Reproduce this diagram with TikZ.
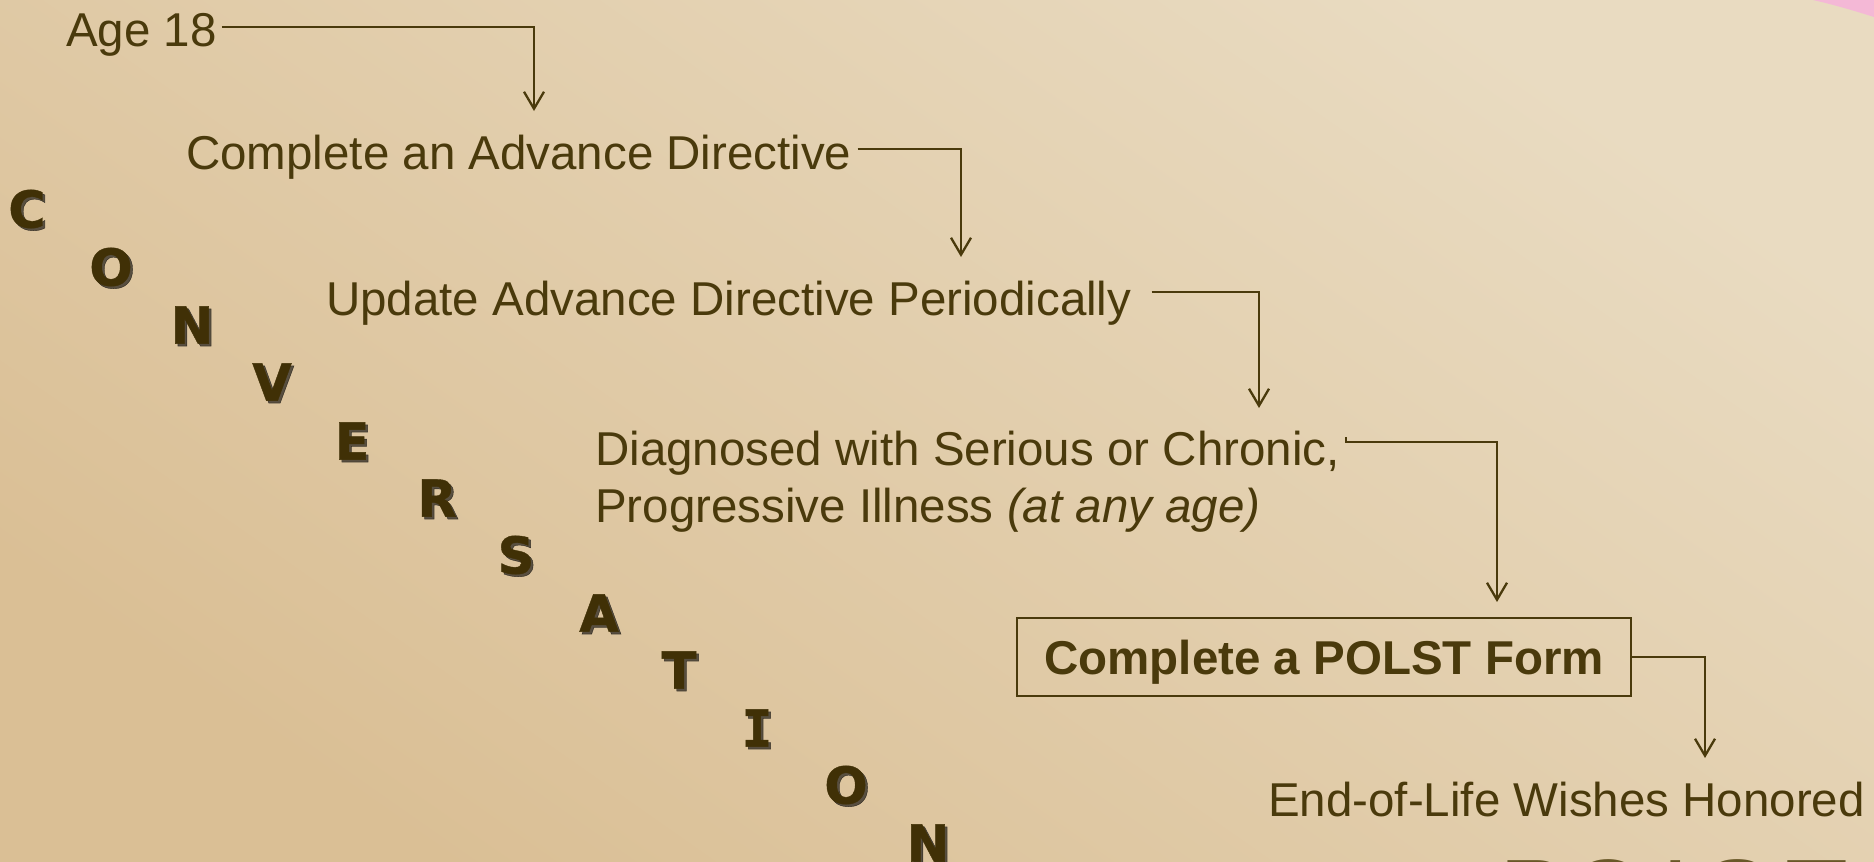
\documentclass[tikz,border=0pt]{standalone}
\usepackage{fontspec}
\setmainfont{Liberation Sans}
\newfontfamily\convfont{DejaVu Sans}[BoldFeatures={FakeBold=0.8}]
\newfontfamily\convmono{DejaVu Sans Mono}[BoldFeatures={FakeBold=0.8}]
\usetikzlibrary{arrows.meta}
\definecolor{bgdark}{RGB}{218,191,149}
\definecolor{bglight}{RGB}{233,219,193}
\definecolor{txt}{RGB}{74,58,12}
\definecolor{conv}{RGB}{64,48,6}
\definecolor{pinkc}{RGB}{244,184,214}
\definecolor{polstc}{RGB}{105,88,40}
\begin{document}
\begin{tikzpicture}[x=1pt,y=-1pt,
  lbl/.style={anchor=base west, inner sep=0pt, text=txt, font=\fontsize{47.5}{57}\selectfont},
  conn/.style={draw=txt, line width=2.3pt, -{Straight Barb[length=17pt,width=20pt,line width=2.3pt]}},
  letter/.style={anchor=center, inner sep=0pt, text=conv, font=\convfont\bfseries\fontsize{51}{51}\selectfont},
  shadowl/.style={letter, text=black, opacity=0.6},
  bigl/.style={anchor=base, inner sep=0pt, text=polstc, font=\fontsize{103}{103}\selectfont},
]
\useasboundingbox (0,0) rectangle (1874,862);
\clip (0,0) rectangle (1874,862);
\shade[top color=bglight, bottom color=bgdark, shading angle=-35] (0,0) rectangle (1874,862);
\fill[pinkc] (1813,0) .. controls (1835,5) and (1855,11) .. (1874,17) -- (1874,0) -- cycle;

% CONVERSATION
\foreach \l/\x/\y in {C/27/209, O/111/267, N/192/325, V/272/382, E/352/441, R/437/498, S/516/555, A/599/613, T/679/670, O/846/785, N/928/843} {
  \node[shadowl] (s\x) at (\x+2.5,\y+2.5) {\l};
  \node[letter] (c\x) at (\x,\y) {\l};
}
\node[shadowl, font=\convmono\bfseries\fontsize{51}{51}\selectfont] (s757) at (759.5,730.5) {I};
\node[letter, font=\convmono\bfseries\fontsize{51}{51}\selectfont] (c757) at (757,728) {I};

% steps
\node[lbl] (age) at (66,46) {Age 18};
\node[lbl] (cad) at (186,169) {Complete an Advance Directive};
\node[lbl] (upd) at (326,315) {Update Advance Directive Periodically};
\node[lbl] (dg1) at (595,465) {Diagnosed with Serious or Chronic,};
\node[lbl] (dg2) at (595,522) {Progressive Illness \textit{(at any age)}};
\node[draw=txt, line width=2.3pt, minimum width=614pt, minimum height=78pt, inner sep=0pt,
      text height=34pt, text depth=0pt, text=txt, font=\bfseries\fontsize{47.5}{57}\selectfont]
      (polst) at (1324,657) {Complete a POLST Form\hspace{12pt}};
\node[lbl] (end) at (1268,816) {End-of-Life Wishes Honored};

% connector tips
\coordinate (t1) at (534,111);
\coordinate (t2) at (961,257);
\coordinate (t3) at (1259,408);
\coordinate (t4) at (1497,602);
\coordinate (t5) at (1705,758);

\draw[conn] ([xshift=5pt,yshift=19pt]age.base east) -| (t1);
\draw[conn] ([xshift=6pt,yshift=20pt]cad.base east) -| (t2);
\draw[conn] ([xshift=20pt,yshift=23pt]upd.base east) -| (t3);
\draw[conn] ([xshift=6pt,yshift=28pt]dg1.base east) -- ++(0,5) -| (t4);
\draw[conn] (polst.east) -| (t5);

% large POLST at bottom edge
\node[bigl] (pP) at (1534,931) {P};
\node[bigl] (pO) at (1609,931) {O};
\node[bigl] (pL) at (1691,931) {L};
\node[bigl] (pS) at (1737,931) {S};
\node[bigl] (pT) at (1817,931) {T};
\end{tikzpicture}
\end{document}
